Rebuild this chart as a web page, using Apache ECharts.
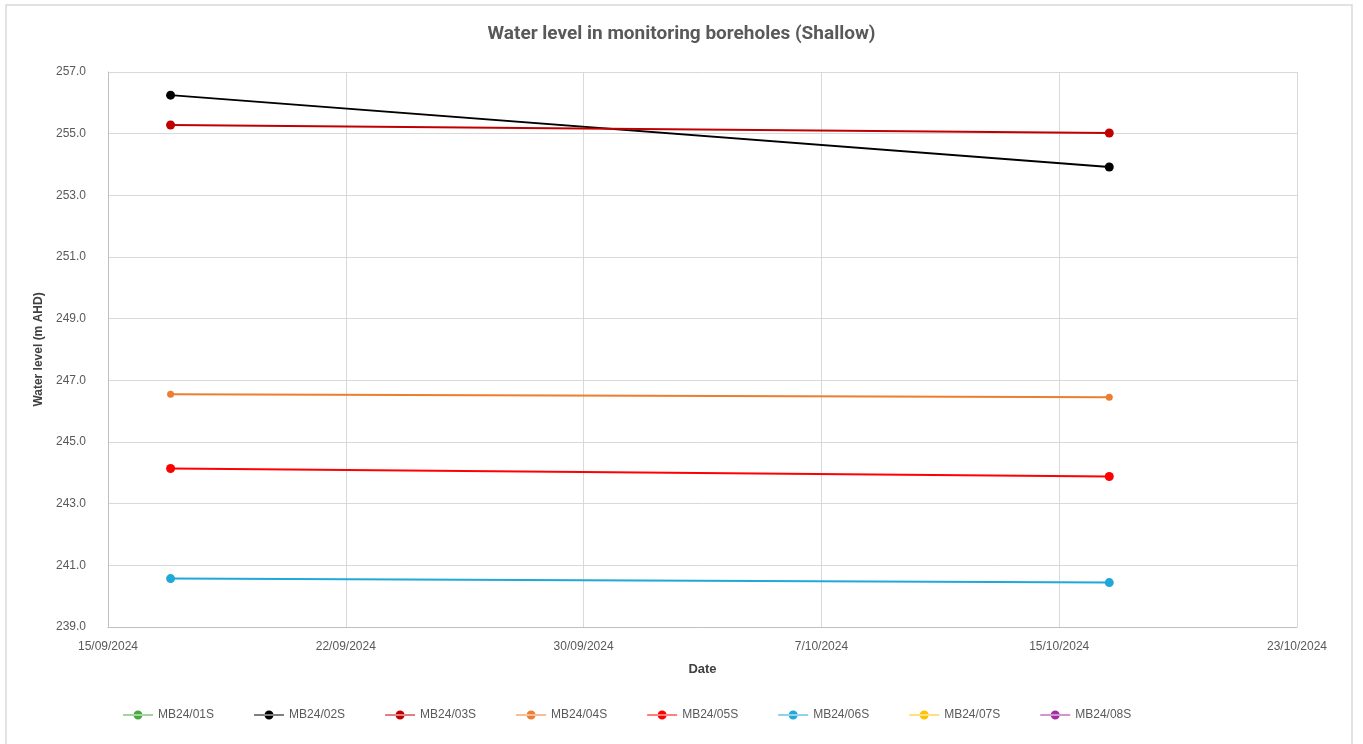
<!DOCTYPE html>
<html>
<head>
<meta charset="utf-8">
<script src="https://cdn.jsdelivr.net/npm/echarts@6/dist/echarts.min.js"></script>
<style>
  html, body { margin: 0; padding: 0; background: #fff; }
  #chart { width: 1363px; height: 744px; }
</style>
</head>
<body>
<div id="chart"></div>
<script>
// axis runs 15/09/2024 .. 23/10/2024, 5 steps of 7.6 days (as Excel does)
var axisStart = '2024-09-15';
var axisDays = 38;
var axisStep = 7.6;

var boreholes = ['MB24/01S', 'MB24/02S', 'MB24/03S', 'MB24/04S', 'MB24/05S', 'MB24/06S', 'MB24/07S', 'MB24/08S'];
var colors = ['#4aa843', '#000000', '#c00000', '#ed7d31', '#ff0000', '#1fa8d8', '#ffc000', '#a030a0'];
var dates = ['2024-09-17', '2024-10-17'];

var mb01 = [];
var mb02 = [256.25, 253.92];
var mb03 = [255.28, 255.02];
var mb04 = [246.55, 246.45];
var mb05 = [244.14, 243.88];
var mb06 = [240.57, 240.44];
var mb07 = [];
var mb08 = [];
var levels = [mb01, mb02, mb03, mb04, mb05, mb06, mb07, mb08];

var yTicks = { min: 239, max: 257, step: 2 };

var DAY = 86400000;
var t0 = Date.UTC(2024, 8, 15);
function toDays(s) {
  var p = s.split('-');
  return (Date.UTC(+p[0], +p[1] - 1, +p[2]) - t0) / DAY;
}
function dayLabel(v) {
  var d = new Date(t0 + Math.floor(v + 1e-6) * DAY);
  var mm = d.getUTCMonth() + 1;
  return d.getUTCDate() + '/' + (mm < 10 ? '0' + mm : mm) + '/' + d.getUTCFullYear();
}

var series = boreholes.map(function(name, i) {
  return {
    name: name,
    type: 'line',
    symbol: 'circle',
    symbolSize: i == 3 ? 7 : 9,
    color: colors[i],
    lineStyle: { width: 2 },
    data: levels[i].map(function(v, j) { return [toDays(dates[j]), v]; })
  };
});

var myChart = echarts.init(document.getElementById('chart'));
myChart.setOption({
  animation: false,
  textStyle: { fontFamily: 'Liberation Sans, Arial, sans-serif' },
  graphic: [{
    type: 'rect',
    shape: { x: 6, y: 5, width: 1346, height: 745 },
    style: { fill: 'none', stroke: '#d9d9d9', lineWidth: 1.5 },
    silent: true
  }],
  title: {
    text: 'Water level in monitoring boreholes (Shallow)',
    left: 'center',
    top: 20,
    textStyle: { fontSize: 19, fontWeight: 'bold', color: '#595959', fontFamily: 'Roboto, sans-serif' }
  },
  legend: {
    left: 118,
    top: 704,
    itemGap: 40,
    itemWidth: 30,
    itemHeight: 9,
    data: boreholes.map(function(n) { return { name: n, icon: 'path://M0,4.5 L30,4.5 L30,5.5 L0,5.5 Z M10.5,5 A4.5,4.5 0 1,0 19.5,5 A4.5,4.5 0 1,0 10.5,5 Z' }; }),
    textStyle: { fontSize: 12, color: '#595959' }
  },
  grid: { left: 108, right: 66, top: 72, bottom: 117 },
  xAxis: {
    type: 'value',
    min: 0,
    max: axisDays,
    interval: axisStep,
    name: 'Date',
    nameLocation: 'middle',
    nameGap: 36,
    nameTextStyle: { fontSize: 13, fontWeight: 'bold', color: '#404040' },
    axisLine: { lineStyle: { color: '#bfbfbf' } },
    axisTick: { show: false },
    axisLabel: { formatter: dayLabel, color: '#595959', fontSize: 12, margin: 14 },
    splitLine: { show: true, lineStyle: { color: '#d9d9d9' } }
  },
  yAxis: {
    type: 'value',
    min: yTicks.min,
    max: yTicks.max,
    interval: yTicks.step,
    name: 'Water level (m AHD)',
    nameLocation: 'middle',
    nameGap: 62,
    nameTextStyle: { fontSize: 12, fontWeight: 'bold', color: '#404040' },
    axisLine: { show: true, lineStyle: { color: '#bfbfbf' } },
    axisTick: { show: false },
    axisLabel: { formatter: function(v) { return v.toFixed(1); }, color: '#595959', fontSize: 12, margin: 22 },
    splitLine: { lineStyle: { color: '#d9d9d9' } }
  },
  series: series
});
</script>
</body>
</html>
